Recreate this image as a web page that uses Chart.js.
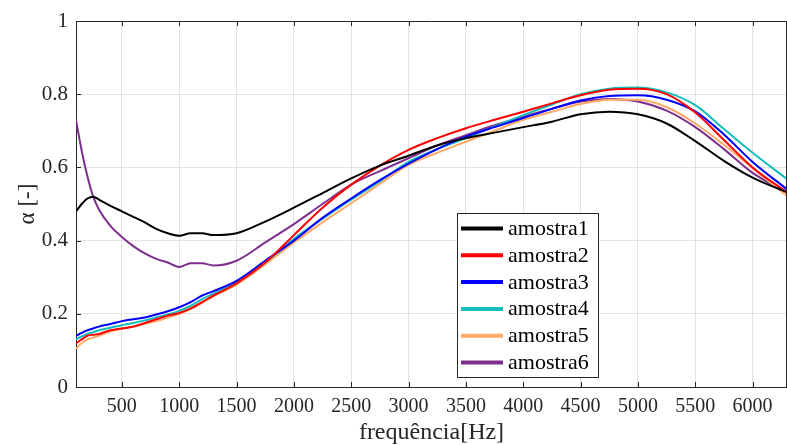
<!DOCTYPE html>
<html>
<head>
<meta charset="utf-8">
<script src="https://cdn.jsdelivr.net/npm/chart.js@4.4.0/dist/chart.umd.min.js"></script>
<style>
  html, body { margin: 0; padding: 0; background: #fff; }
  #wrap { width: 787px; height: 445px; }
</style>
</head>
<body>
<div id="wrap"><canvas id="chart" width="787" height="445"></canvas></div>
<script>
// ---- data ----
const freq = [100,150,200,250,300,400,500,600,700,800,900,1000,1100,1200,1300,1500,1750,2000,2250,2500,2750,3000,3250,3500,3750,4000,4250,4500,4750,5000,5250,5500,5750,6000,6300];

const amostra1 = [0.48,0.50,0.515,0.52,0.512,0.495,0.48,0.465,0.45,0.432,0.42,0.413,0.42,0.42,0.415,0.42,0.452,0.49,0.53,0.57,0.605,0.632,0.66,0.68,0.695,0.71,0.725,0.745,0.752,0.745,0.72,0.672,0.618,0.572,0.532];
const amostra2 = [0.12,0.13,0.14,0.143,0.145,0.155,0.16,0.165,0.175,0.185,0.195,0.202,0.215,0.232,0.25,0.283,0.34,0.415,0.49,0.553,0.605,0.648,0.68,0.707,0.73,0.752,0.775,0.797,0.812,0.815,0.8,0.75,0.675,0.6,0.532];
const amostra3 = [0.14,0.148,0.155,0.16,0.165,0.172,0.18,0.185,0.19,0.198,0.207,0.218,0.232,0.25,0.262,0.29,0.345,0.4,0.462,0.515,0.565,0.61,0.65,0.684,0.71,0.735,0.76,0.783,0.795,0.797,0.785,0.753,0.69,0.615,0.54];
const amostra4 = [0.13,0.138,0.145,0.15,0.155,0.162,0.169,0.175,0.182,0.19,0.198,0.208,0.222,0.24,0.255,0.285,0.34,0.405,0.46,0.512,0.562,0.615,0.65,0.68,0.712,0.743,0.772,0.8,0.815,0.818,0.805,0.77,0.705,0.64,0.568];
const amostra5 = [0.105,0.12,0.13,0.135,0.14,0.152,0.16,0.165,0.172,0.18,0.19,0.2,0.213,0.23,0.248,0.28,0.335,0.395,0.45,0.502,0.555,0.607,0.64,0.67,0.7,0.73,0.752,0.773,0.785,0.785,0.765,0.72,0.662,0.598,0.522];
const amostra6 = [0.73,0.645,0.575,0.52,0.485,0.44,0.41,0.385,0.365,0.35,0.34,0.328,0.338,0.338,0.332,0.345,0.395,0.445,0.5,0.553,0.59,0.625,0.66,0.688,0.715,0.738,0.76,0.78,0.787,0.78,0.755,0.71,0.65,0.585,0.532];

const seriesNames = ["amostra1","amostra2","amostra3","amostra4","amostra5","amostra6"];
const seriesData = [amostra1, amostra2, amostra3, amostra4, amostra5, amostra6];
const seriesColors = ["#000000","#ff0000","#0000ff","#14bdbb","#ffaa66","#7e2f8e"];

const xTicks = [500,1000,1500,2000,2500,3000,3500,4000,4500,5000,5500,6000];

const FONT = "'Liberation Serif', 'Times New Roman', serif";
const AXIS = "#262626";

// matlab-ish box, inward ticks and the legend
const boxPlugin = {
  id: "box",
  afterDraw(chart) {
    const {ctx, chartArea: a, scales} = chart;
    ctx.save();
    ctx.strokeStyle = AXIS;
    ctx.lineWidth = 1;
    ctx.beginPath();
    ctx.moveTo(a.left, a.top + 0.5);
    ctx.lineTo(a.right, a.top + 0.5);
    ctx.moveTo(a.right - 0.5, a.top);
    ctx.lineTo(a.right - 0.5, a.bottom);
    // inward ticks
    scales.x.ticks.forEach(t => {
      const px = Math.round(scales.x.getPixelForValue(t.value)) + 0.5;
      ctx.moveTo(px, a.bottom); ctx.lineTo(px, a.bottom - 5);
      ctx.moveTo(px, a.top); ctx.lineTo(px, a.top + 5);
    });
    scales.y.ticks.forEach(t => {
      const py = Math.round(scales.y.getPixelForValue(t.value)) + 0.5;
      ctx.moveTo(a.left, py); ctx.lineTo(a.left + 5, py);
    });
    ctx.stroke();

    // legend
    const lx = 457, ly = 213, lw = 141, lh = 164;
    ctx.fillStyle = "#fff";
    ctx.fillRect(lx, ly, lw, lh);
    ctx.strokeStyle = AXIS;
    ctx.strokeRect(lx + 0.5, ly + 0.5, lw, lh);
    ctx.font = "22px " + FONT;
    ctx.textBaseline = "alphabetic";
    chart.data.datasets.forEach((ds, i) => {
      const y = 228.5 + i * 26.8;
      ctx.strokeStyle = ds.borderColor;
      ctx.lineWidth = 4;
      ctx.beginPath();
      ctx.moveTo(461, y); ctx.lineTo(503, y);
      ctx.stroke();
      ctx.fillStyle = "#000";
      ctx.fillText(ds.label, 508, y + 6.5);
    });
    ctx.restore();
  }
};

new Chart(document.getElementById("chart"), {
  type: "line",
  data: {
    datasets: seriesNames.map((name, i) => ({
      label: name,
      data: freq.map((f, k) => ({x: f, y: seriesData[i][k]})),
      borderColor: seriesColors[i],
      backgroundColor: seriesColors[i],
      borderWidth: 2,
      pointRadius: 0,
      cubicInterpolationMode: "monotone",
      fill: false
    }))
  },
  options: {
    responsive: false,
    animation: false,
    layout: { padding: { top: 21, left: 0, right: 0, bottom: 0 } },
    plugins: { legend: { display: false }, tooltip: { enabled: false } },
    scales: {
      x: {
        type: "linear",
        min: 100,
        max: 6300,
        afterBuildTicks: s => { s.ticks = xTicks.map(v => ({value: v})); },
        afterFit: s => { s.height = 58; },
        grid: { color: "#e2e2e2", drawTicks: false },
        border: { color: AXIS },
        ticks: { color: AXIS, padding: 8, maxRotation: 0, autoSkip: false,
                 callback: v => String(v),
                 font: { family: FONT, size: 20 } },
        title: { display: true, text: "frequência[Hz]", color: AXIS,
                 font: { family: FONT, size: 24, lineHeight: 1 }, padding: { top: 0, bottom: 0 } }
      },
      y: {
        min: 0,
        max: 1,
        afterFit: s => { s.width = 76; },
        grid: { color: "#e2e2e2", drawTicks: false },
        border: { color: AXIS },
        ticks: { stepSize: 0.2, color: AXIS, padding: 8,
                 callback: v => String(Math.round(v * 10) / 10),
                 font: { family: FONT, size: 21 } },
        title: { display: true, text: "α [-]", color: AXIS,
                 font: { family: FONT, size: 23, lineHeight: 1 }, padding: { top: 16, bottom: 0 } }
      }
    }
  },
  plugins: [boxPlugin]
});
</script>
</body>
</html>
